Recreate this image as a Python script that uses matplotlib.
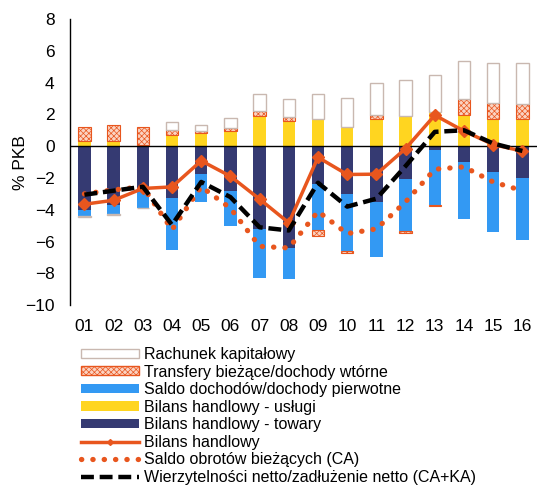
import numpy as np
import matplotlib
matplotlib.use("Agg")
import matplotlib.pyplot as plt
from matplotlib.lines import Line2D
from matplotlib.patches import Patch

plt.rcParams["font.family"] = ["Liberation Sans", "DejaVu Sans"]

years = ["01", "02", "03", "04", "05", "06", "07", "08",
         "09", "10", "11", "12", "13", "14", "15", "16"]

goods = [-4.0, -3.7, -2.7, -3.25, -1.78, -2.83, -5.2, -6.4,
         -2.4, -3.0, -3.5, -2.07, -0.25, -1.0, -1.6, -2.0]
services = [0.33, 0.3, 0.05, 0.7, 0.86, 0.96, 1.9, 1.6,
            1.68, 1.22, 1.74, 1.9, 2.16, 1.95, 1.7, 1.68]
income = [-0.38, -0.58, -1.16, -3.25, -1.76, -2.17, -3.1, -1.98,
          -2.88, -3.6, -3.5, -3.28, -3.42, -3.6, -3.78, -3.87]
transfers = [0.88, 1.06, 1.15, 0.3, 0.1, 0.2, 0.3, 0.25,
             -0.35, -0.1, 0.25, -0.08, -0.1, 1.0, 1.03, 1.0]
capital = [-0.05, -0.05, -0.05, 0.49, 0.35, 0.6, 1.07, 1.1,
           1.62, 1.82, 2.0, 2.25, 2.29, 2.4, 2.5, 2.52]

trade_balance = [-3.65, -3.4, -2.66, -2.56, -0.92, -1.89, -3.33, -4.82,
                 -0.7, -1.78, -1.76, -0.15, 1.95, 0.95, 0.1, -0.31]
ca = [-3.0, -2.75, -2.55, -5.25, -2.55, -3.9, -6.3, -6.4,
      -4.1, -5.5, -5.2, -3.5, -1.45, -1.3, -2.25, -2.8]
ca_ka = [-3.05, -2.8, -2.55, -4.95, -2.25, -3.2, -5.1, -5.3,
         -2.3, -3.8, -3.3, -1.25, 0.9, 1.0, 0.17, -0.3]

NAVY = "#353a72"
BLUE = "#3399f3"
YELLOW = "#ffd520"
ORANGE = "#e8561e"
HATCH_FACE = "#fbd3c2"
CAP_EDGE = "#c9b8b0"

plt.rcParams["hatch.linewidth"] = 0.5

fig = plt.figure(figsize=(5.37, 4.86), dpi=100)
ax = fig.add_axes([0.130, 0.372, 0.870, 0.589])

x = np.arange(len(years))
w = 0.43

# stacked bars: positives build up, negatives build down
series = [
    (goods, dict(color=NAVY)),
    (services, dict(color=YELLOW)),
    (income, dict(color=BLUE)),
    (transfers, dict(facecolor=HATCH_FACE, edgecolor=ORANGE, hatch="xxxxxx", linewidth=0.8)),
    (capital, dict(facecolor="white", edgecolor=CAP_EDGE, linewidth=1.0)),
]
pos = np.zeros(len(years))
neg = np.zeros(len(years))
for vals, style in series:
    v = np.array(vals)
    base = np.where(v >= 0, pos, neg)
    ax.bar(x, v, w, bottom=base, zorder=2, **style)
    pos = np.where(v >= 0, pos + v, pos)
    neg = np.where(v < 0, neg + v, neg)

ax.axhline(0, color="black", lw=1.0, zorder=3)

ax.plot(x, trade_balance, color=ORANGE, lw=2.5, marker="D", ms=6, zorder=4)
ax.plot(x, ca, color=ORANGE, lw=3.8, linestyle=(0, (0.05, 2.1)),
        dash_capstyle="round", zorder=4)
ax.plot(x, ca_ka, color="black", lw=3.2, linestyle=(0, (2.9, 1.3)), zorder=5)

ax.set_xlim(-0.5, len(years) - 0.5)
ax.set_ylim(-10, 8)
ax.set_yticks(range(-10, 9, 2))
ax.set_xticks(x)
ax.set_xticklabels(years)
ax.tick_params(axis="both", length=0, labelsize=12.5)
ax.tick_params(axis="y", pad=11)
ax.tick_params(axis="x", pad=10)
for s in ["top", "right", "bottom"]:
    ax.spines[s].set_visible(False)
ax.spines["left"].set_linewidth(1.0)
ax.set_ylabel("% PKB", fontsize=12.5)
ax.yaxis.set_label_coords(-0.09, 0.5)

handles = [
    Patch(facecolor="white", edgecolor=CAP_EDGE, label="Rachunek kapitałowy"),
    Patch(facecolor=HATCH_FACE, edgecolor=ORANGE, hatch="xxxxxx",
          label="Transfery bieżące/dochody wtórne"),
    Patch(facecolor=BLUE, label="Saldo dochodów/dochody pierwotne"),
    Patch(facecolor=YELLOW, label="Bilans handlowy - usługi"),
    Patch(facecolor=NAVY, label="Bilans handlowy - towary"),
    Line2D([], [], color=ORANGE, lw=2.5, marker="D", ms=3, label="Bilans handlowy"),
    Line2D([], [], color=ORANGE, lw=3.8, linestyle=(0, (0.05, 2.1)),
           dash_capstyle="round", label="Saldo obrotów bieżących (CA)"),
    Line2D([], [], color="black", lw=3.2, linestyle=(0, (2.9, 1.3)),
           label="Wierzytelności netto/zadłużenie netto (CA+KA)"),
]
fig.legend(handles=handles, loc="upper left", bbox_to_anchor=(0.151, 0.286),
           frameon=False, fontsize=11.5, handlelength=3.6, handleheight=0.5,
           handletextpad=0.32, labelspacing=0.16, borderaxespad=0, borderpad=0)

fig.savefig("out.png", dpi=100)
